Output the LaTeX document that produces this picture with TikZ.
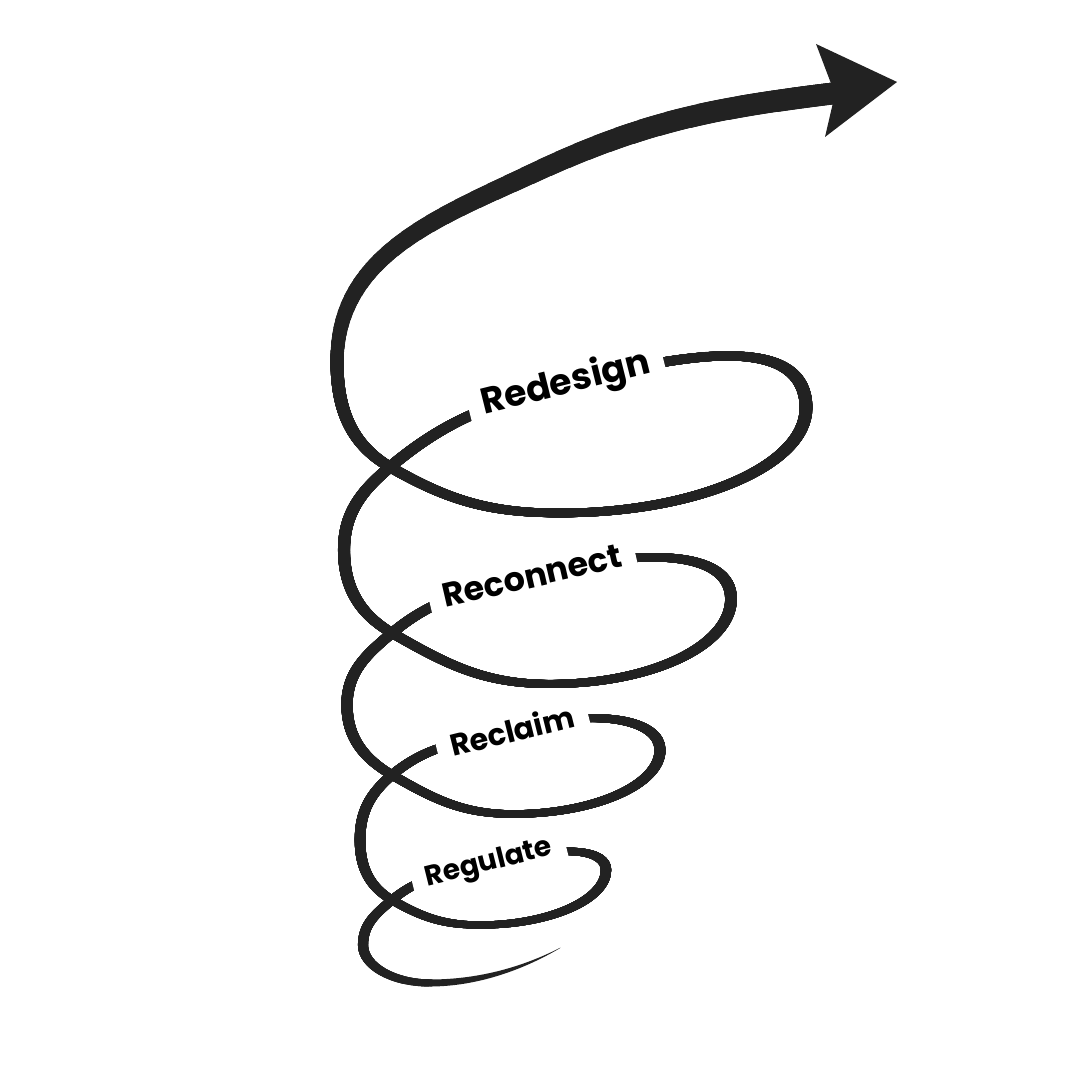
\documentclass[tikz,border=0pt]{standalone}
\usepackage{fontspec}
\setmainfont{Poppins}
\definecolor{coil}{HTML}{222222}

\begin{document}
\begin{tikzpicture}[x=0.01cm,y=0.01cm,line cap=round,line join=round,
    spring/.style={draw=coil,line width=#1*0.2845pt},
    tag/.style={fill=white,inner xsep=4pt,inner ysep=3pt,font=\bfseries\fontsize{#1}{#1}\selectfont}]
\useasboundingbox (0,0) rectangle (1080,1080);
\fill[white] (0,0) rectangle (1080,1080);

% tapered tail where the coil begins
\coordinate (s) at (560,132);
\coordinate (p) at (430,97);
\fill[coil] (560.3,132.3) .. controls (519.3,111.3) and (475,100.5) .. (430,100.5)
  -- (430,93.5) .. controls (475,93.5) and (520.7,108.7) .. (559.7,131.7) -- cycle;

% crossings, label points, right ends, bottoms, left turns
\coordinate (l0) at (363,135);
\coordinate (c1) at (392,180); \coordinate (p1) at (489,216);
\coordinate (r1) at (606,210); \coordinate (b1) at (480,155); \coordinate (l1) at (360,240);
\coordinate (c2) at (392,305); \coordinate (p2) at (512,350);
\coordinate (r2) at (660,330); \coordinate (b2) at (513,266); \coordinate (l2) at (347,375);
\coordinate (c3) at (392,447); \coordinate (p3) at (532,504);
\coordinate (r3) at (731,481); \coordinate (b3) at (550,396); \coordinate (l3) at (344,530);
\coordinate (c4) at (390,613); \coordinate (p4) at (566,696);
\coordinate (r4) at (806,672); \coordinate (b4) at (560,567); \coordinate (l4) at (337,718);
\coordinate (a2) at (534,907);
\coordinate (n) at (838,987);

% the coil itself
\path[save path=\coil] (p)
  to[out=180,in=-90,out distance=0.37cm,in distance=0.21cm] (l0)
  to[out=90,in=220] (c1) to[out=40,in=195] (p1)
  to[out=15,in=90,out distance=0.8cm,in distance=0.2cm] (r1)
  to[out=-90,in=0,out distance=0.3cm,in distance=0.69cm] (b1)
  to[out=180,in=-30] (c1) to[out=150,in=-90] (l1)
  to[out=90,in=220] (c2) to[out=40,in=195] (p2)
  to[out=15,in=90,out distance=0.9cm,in distance=0.3cm] (r2)
  to[out=-90,in=0,out distance=0.35cm,in distance=0.81cm] (b2)
  to[out=180,in=-30] (c2) to[out=150,in=-90] (l2)
  to[out=90,in=220] (c3) to[out=40,in=195] (p3)
  to[out=15,in=90,out distance=1.1cm,in distance=0.5cm] (r3)
  to[out=-90,in=0,out distance=0.47cm,in distance=1cm] (b3)
  to[out=180,in=-30] (c3) to[out=150,in=-90] (l3)
  to[out=90,in=220] (c4) to[out=40,in=195] (p4)
  to[out=15,in=90,out distance=1.4cm,in distance=0.7cm] (r4)
  to[out=-90,in=0,out distance=0.58cm,in distance=1.35cm] (b4)
  to[out=180,in=-30] (c4) to[out=150,in=-90] (l4)
  to[out=90,in=205] (a2) to[out=25,in=187] (n);

% broad nib, heavier as it climbs
\foreach \yb in {80,88,...,1000}{
  \pgfmathsetmacro\w{\yb<720 ? 7+2*(\yb-100)/620 : min(21.5,9+12.5*(\yb-720)/256)}
  \pgfmathsetmacro\d{\yb<720 ? 1.5+0.5*(\yb-100)/620 : 2}
  \foreach \sx in {-1,1}{
    \begin{scope}[transform canvas={xshift=\sx*\d*0.01cm}]
      \clip (0,\yb) rectangle (1080,1080);
      \draw[spring=\w,use path=\coil];
    \end{scope}}
}

% arrow head
\coordinate (tip) at (897,998);
\coordinate (h1) at (816,1036);
\coordinate (h0) at (835,986);
\coordinate (h2) at (825,943);
\fill[coil] (tip) -- (h1) -- (h0) -- (h2) -- cycle;

% labels cut the line
\node[tag=8,rotate=14] (regulate) at (p1) {Regulate};
\node[tag=8.6,rotate=14] (reclaim) at (p2) {Reclaim};
\node[tag=9.5,rotate=13] (reconnect) at (p3) {Reconnect};
\node[tag=10.3,rotate=14] (redesign) at (p4) {Redesign};
\end{tikzpicture}
\end{document}
